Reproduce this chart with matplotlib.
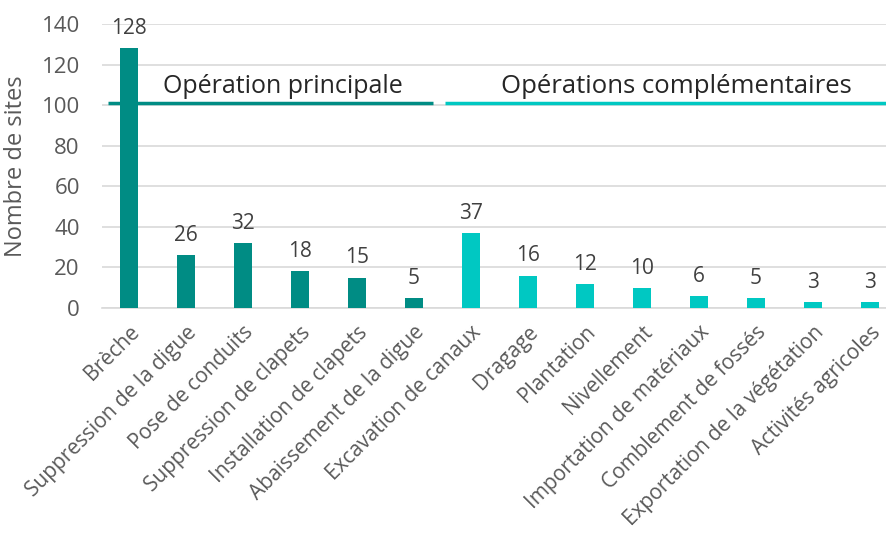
import matplotlib
matplotlib.use("Agg")
import matplotlib.pyplot as plt

categories = ["Brèche", "Suppression de la digue", "Pose de conduits",
              "Suppression de clapets", "Installation de clapets",
              "Abaissement de la digue", "Excavation de canaux", "Dragage",
              "Plantation", "Nivellement", "Importation de matériaux",
              "Comblement de fossés", "Exportation de la végétation",
              "Activités agricoles"]
values = [128, 26, 32, 18, 15, 5, 37, 16, 12, 10, 6, 5, 3, 3]
groups = ["principale"] * 6 + ["complementaire"] * 8
group_labels = {"principale": "Opération principale",
                "complementaire": "Opérations complémentaires"}
colors = {"principale": "#008C84", "complementaire": "#00C8C2"}

plt.rcParams['font.family'] = ['Open Sans', 'DejaVu Sans']
fig = plt.figure(figsize=(8.87, 5.47), dpi=100)
ax = fig.add_axes([102/887, 1 - 308/547, (887-102)/887, (308-24)/547])

x = list(range(len(categories)))
ax.bar(x, values, width=0.32, color=[colors[g] for g in groups], zorder=3)
for xi, v in zip(x, values):
    ax.text(xi, v + 4.5, str(v), ha='center', va='bottom', fontsize=15, color='#404040', zorder=4)

ax.set_ylim(0, 140)
ax.set_xlim(-0.47, 13.3)
ax.set_yticks(range(0, 141, 20))
ax.yaxis.grid(True, color='#D9D9D9', linewidth=1.2, zorder=0)
ax.set_axisbelow(True)
for s in ['top', 'right', 'left']:
    ax.spines[s].set_visible(False)
ax.spines['bottom'].set_color('#D9D9D9')
ax.spines['bottom'].set_linewidth(1.2)
ax.tick_params(axis='y', length=0, labelsize=16, colors='#595959', pad=16)
ax.tick_params(axis='x', length=0, labelsize=15, colors='#595959', pad=10)
ax.set_xticks(x)
ax.set_xticklabels(categories, rotation=45, ha='right', rotation_mode='anchor')
ax.set_ylabel("Nombre de sites", fontsize=17, color='#595959')
ax.yaxis.set_label_coords(-74/785, 0.5)

# group annotations
ax.plot([-0.36, 5.34], [101, 101], color=colors["principale"], linewidth=2.5, zorder=2, solid_capstyle='butt')
ax.plot([5.54, 13.3], [101, 101], color=colors["complementaire"], linewidth=2.5, zorder=2, solid_capstyle='butt', clip_on=False)
ax.text(2.7, 103, group_labels["principale"], ha='center', va='bottom', fontsize=18, color='#262626', zorder=4)
ax.text(9.6, 103, group_labels["complementaire"], ha='center', va='bottom', fontsize=18.5, color='#262626', zorder=4)

fig.savefig("out.png", dpi=100)
